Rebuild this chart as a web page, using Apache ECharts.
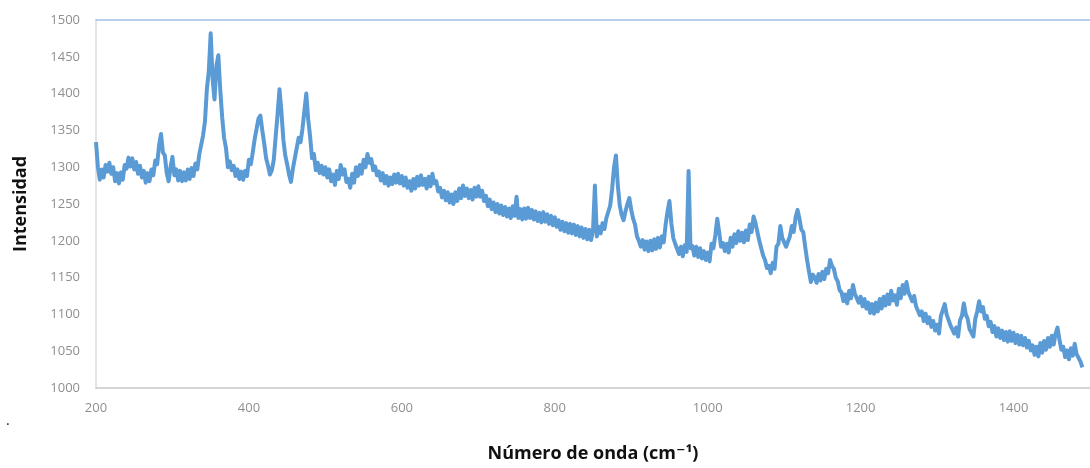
<!DOCTYPE html>
<html>
<head>
<meta charset="utf-8">
<script src="https://cdn.jsdelivr.net/npm/echarts@6/dist/echarts.min.js"></script>
<style>
  html, body { margin: 0; padding: 0; background: #ffffff; }
  #chart { width: 1090px; height: 468px; }
</style>
</head>
<body>
<div id="chart"></div>
<script>
// Raman spectrum: intensity sampled every 2.5 cm-1 from 200 to 1490 cm-1
const startWavenumber = 200;
const stepWavenumber = 2.5;
const intensity = [
  1334, 1300, 1283, 1297, 1286, 1303, 1294, 1306, 1291, 1300, 1281, 1292, 1278, 1293, 1283, 1303, 1298, 1313, 1301, 1312,
  1297, 1307, 1291, 1302, 1286, 1295, 1279, 1292, 1281, 1297, 1289, 1309, 1304, 1330, 1345, 1320, 1316, 1292, 1281, 1300,
  1314, 1289, 1297, 1282, 1295, 1281, 1293, 1282, 1297, 1284, 1299, 1288, 1305, 1297, 1317, 1316, 1343, 1362, 1406, 1430,
  1482, 1420, 1392, 1438, 1452, 1405, 1368, 1340, 1326, 1300, 1308, 1296, 1302, 1288, 1297, 1284, 1294, 1283, 1295, 1288,
  1310, 1304, 1320, 1338, 1352, 1366, 1370, 1350, 1332, 1312, 1302, 1290, 1296, 1310, 1342, 1372, 1406, 1375, 1338, 1316,
  1304, 1290, 1280, 1298, 1312, 1326, 1340, 1334, 1352, 1376, 1400, 1365, 1342, 1312, 1318, 1296, 1306, 1292, 1302, 1290,
  1300, 1286, 1297, 1281, 1290, 1276, 1295, 1284, 1303, 1290, 1297, 1280, 1284, 1272, 1291, 1279, 1300, 1288, 1303, 1291,
  1310, 1300, 1318, 1306, 1311, 1296, 1301, 1289, 1294, 1282, 1292, 1278, 1288, 1275, 1286, 1277, 1290, 1279, 1291, 1278,
  1288, 1275, 1286, 1272, 1281, 1268, 1284, 1271, 1287, 1275, 1289, 1276, 1284, 1271, 1287, 1274, 1291, 1278, 1281, 1267,
  1272, 1259, 1268, 1255, 1266, 1252, 1263, 1250, 1266, 1254, 1271, 1258, 1275, 1261, 1271, 1258, 1269, 1256, 1272, 1260,
  1274, 1260, 1268, 1254, 1261, 1247, 1256, 1243, 1252, 1239, 1250, 1237, 1248, 1235, 1246, 1233, 1244, 1231, 1247, 1234,
  1260, 1231, 1243, 1229, 1244, 1230, 1245, 1231, 1242, 1229, 1240, 1227, 1238, 1225, 1239, 1226, 1236, 1223, 1234, 1221,
  1232, 1219, 1228, 1215, 1226, 1213, 1224, 1211, 1223, 1210, 1222, 1208, 1220, 1206, 1218, 1204, 1216, 1202, 1215, 1201,
  1214, 1275, 1206, 1219, 1210, 1224, 1216, 1231, 1230, 1248, 1270, 1300, 1316, 1275, 1248, 1235, 1228, 1240, 1250, 1258,
  1242, 1230, 1222, 1206, 1200, 1192, 1201, 1188, 1199, 1186, 1200, 1187, 1202, 1189, 1204, 1191, 1206, 1198, 1222, 1240,
  1254, 1224, 1204, 1196, 1194, 1182, 1192, 1179, 1194, 1185, 1295, 1190, 1193, 1180, 1192, 1178, 1190, 1176, 1186, 1174,
  1184, 1172, 1196, 1190, 1208, 1230, 1212, 1192, 1197, 1186, 1196, 1184, 1204, 1192, 1209, 1197, 1213, 1200, 1211, 1198,
  1214, 1201, 1222, 1212, 1233, 1224, 1212, 1200, 1190, 1180, 1174, 1163, 1166, 1156, 1170, 1162, 1192, 1196, 1220, 1204,
  1204, 1192, 1199, 1206, 1220, 1212, 1232, 1242, 1230, 1215, 1212, 1192, 1174, 1158, 1144, 1154, 1150, 1143, 1155, 1146,
  1158, 1148, 1162, 1156, 1174, 1166, 1162, 1150, 1145, 1133, 1130, 1118, 1127, 1115, 1132, 1122, 1140, 1128, 1128, 1116,
  1124, 1111, 1121, 1108, 1116, 1102, 1114, 1101, 1116, 1104, 1121, 1108, 1124, 1112, 1127, 1114, 1132, 1119, 1126, 1113,
  1135, 1122, 1140, 1128, 1144, 1130, 1132, 1118, 1125, 1111, 1112, 1099, 1104, 1091, 1101, 1088, 1096, 1083, 1091, 1078,
  1086, 1074, 1098, 1096, 1114, 1100, 1100, 1085, 1086, 1074, 1082, 1070, 1092, 1098, 1115, 1100, 1094, 1080, 1082, 1070,
  1094, 1104, 1118, 1104, 1110, 1094, 1098, 1084, 1090, 1076, 1084, 1070, 1081, 1068, 1078, 1065, 1076, 1063, 1077, 1064,
  1075, 1061, 1072, 1059, 1071, 1058, 1068, 1055, 1064, 1051, 1058, 1045, 1056, 1043, 1061, 1048, 1064, 1052, 1068, 1056,
  1071, 1059, 1074, 1082, 1066, 1052, 1056, 1042, 1051, 1039, 1054, 1044, 1060, 1046, 1044, 1036, 1028
];
const xTicks = { min: 200, max: 1500, interval: 200 };
const yTicks = { min: 1000, max: 1500, interval: 50 };

const spectrum = intensity.map((v, i) => [startWavenumber + i * stepWavenumber, v]);

const tickFont = '"Open Sans", "DejaVu Sans", sans-serif';
const titleFont = '"Open Sans", "DejaVu Sans", sans-serif';
const plainNumber = v => String(v);

const chart = echarts.init(document.getElementById('chart'), null, { renderer: 'canvas' });
chart.setOption({
  animation: false,
  backgroundColor: '#ffffff',
  grid: { left: 96, right: 0, top: 20, bottom: 78, containLabel: false },
  xAxis: [{
    type: 'value',
    min: xTicks.min, max: xTicks.max, interval: xTicks.interval,
    name: 'Número de onda (cm⁻¹)',
    nameLocation: 'middle',
    nameGap: 57,
    nameTextStyle: { fontFamily: titleFont, fontWeight: 'bold', fontSize: 18, color: '#111111' },
    axisLine: { show: true, lineStyle: { color: '#c8c8c8', width: 1.5 } },
    axisTick: { show: false },
    splitLine: { show: false },
    axisLabel: { color: '#8f8f8f', fontSize: 13, fontFamily: tickFont, margin: 14, showMaxLabel: false, formatter: plainNumber }
  }, {
    type: 'value',
    position: 'top',
    min: xTicks.min, max: xTicks.max,
    axisLine: { show: true, onZero: false, lineStyle: { color: '#9dc0e6', width: 1.5 } },
    axisTick: { show: false },
    axisLabel: { show: false },
    splitLine: { show: false }
  }],
  yAxis: {
    type: 'value',
    min: yTicks.min, max: yTicks.max, interval: yTicks.interval,
    name: 'Intensidad',
    nameLocation: 'middle',
    nameGap: 66,
    nameRotate: 90,
    nameTextStyle: { fontFamily: titleFont, fontWeight: 'bold', fontSize: 18, color: '#111111' },
    axisLine: { show: true, lineStyle: { color: '#dcdcdc', width: 1.5 } },
    axisTick: { show: false },
    splitLine: { show: false },
    axisLabel: { color: '#8f8f8f', fontSize: 13, fontFamily: tickFont, margin: 16, formatter: plainNumber }
  },
  graphic: [{
    type: 'text', left: 6, top: 414,
    style: { text: '.', fill: '#222222', fontSize: 14, fontFamily: tickFont }
  }],
  series: [{
    type: 'line',
    xAxisIndex: 0,
    data: spectrum,
    showSymbol: false,
    symbol: 'none',
    lineStyle: { color: '#5b9bd5', width: 4, join: 'round' },
    clip: true
  }]
});
</script>
</body>
</html>
